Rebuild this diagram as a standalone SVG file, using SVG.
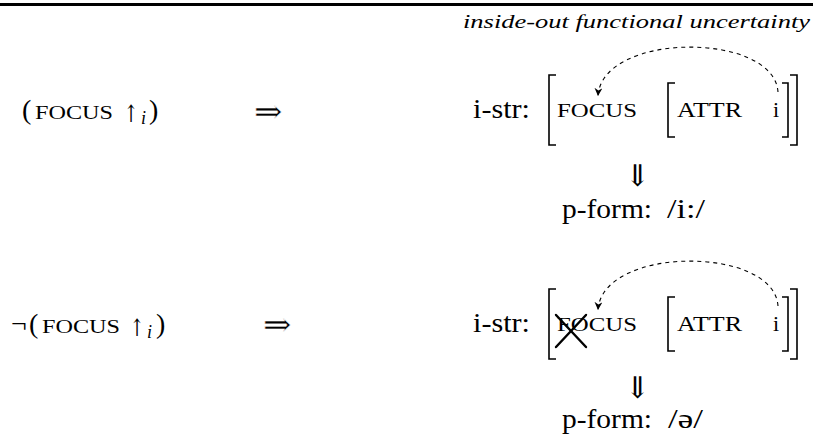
<svg xmlns="http://www.w3.org/2000/svg" width="813" height="435" viewBox="0 0 813 435">
<style>
.t{font-family:"Liberation Serif","Times New Roman",serif;fill:#000}
.lab{font-size:28px}
.sc{font-size:19px}
.av{font-size:22px}
.it{font-style:italic}
.sym{font-family:"DejaVu Serif","DejaVu Sans",serif;fill:#000}
.thin{stroke:#fff;stroke-width:0.45}
.br{fill:none;stroke:#000;stroke-width:1.6}
.arc{fill:none;stroke:#000;stroke-width:1.1;stroke-dasharray:4 4}
.x{stroke:#000;stroke-width:2.4;stroke-linecap:round}
</style>
<defs>
<marker id="ah" viewBox="0 0 10 10" refX="10" refY="5" markerWidth="8" markerHeight="8" markerUnits="userSpaceOnUse" orient="auto">
<path d="M0,0 L10,5 L0,10 L3,5 z" fill="#000"/>
</marker>
</defs>
<rect x="0" y="3" width="813" height="3" fill="#000"/>
<g id="caption"><text class="t it" x="463" y="28" font-size="18" textLength="347" lengthAdjust="spacingAndGlyphs">inside-out functional uncertainty</text></g>

<g id="lhs1">
<text class="t lab" x="22" y="119">(</text>
<text class="t sc" x="35" y="119" textLength="78" lengthAdjust="spacingAndGlyphs">FOCUS</text>
<text class="sym" transform="translate(124,122) scale(0.7,1)" font-size="24">↑</text>
<text class="t it" x="141" y="124" font-size="18">i</text>
<text class="t lab" x="149" y="119">)</text>
</g>
<g id="imp1"><text class="sym thin" x="254" y="123" font-size="34">⇒</text></g>
<g id="istr1">
<text class="t lab" x="473" y="118" textLength="57" lengthAdjust="spacingAndGlyphs">i-str:</text>
<path class="br" d="M556,75 H549 V145 H556"/>
<text class="t sc" x="557" y="117" textLength="80" lengthAdjust="spacingAndGlyphs">FOCUS</text>
<path class="br" d="M675,83 H668 V137 H675"/>
<text class="t av" x="677" y="117" textLength="65" lengthAdjust="spacingAndGlyphs">ATTR</text>
<text class="t av" x="773" y="117">i</text>
<path class="br" d="M782,83 H788 V137 H782"/>
<path class="br" d="M790,75 H797 V145 H790"/>
</g>
<g id="down1"><text class="sym" x="625" y="186" font-size="30">⇓</text></g>
<g id="pform1">
<text class="t lab" x="562" y="218" textLength="90" lengthAdjust="spacingAndGlyphs">p-form:</text>
<text class="t lab" x="667" y="218" textLength="38" lengthAdjust="spacingAndGlyphs">/i:/</text>
</g>

<g id="lhs2">
<text class="t lab" x="11" y="333">¬</text>
<text class="t lab" x="29" y="333">(</text>
<text class="t sc" x="42" y="333" textLength="78" lengthAdjust="spacingAndGlyphs">FOCUS</text>
<text class="sym" transform="translate(130,336) scale(0.7,1)" font-size="24">↑</text>
<text class="t it" x="147" y="338" font-size="18">i</text>
<text class="t lab" x="156" y="333">)</text>
</g>
<g id="imp2"><text class="sym thin" x="263" y="336" font-size="34">⇒</text></g>
<g id="istr2">
<text class="t lab" x="473" y="332" textLength="57" lengthAdjust="spacingAndGlyphs">i-str:</text>
<path class="br" d="M556,289 H549 V359 H556"/>
<text class="t sc" x="557" y="331" textLength="80" lengthAdjust="spacingAndGlyphs">FOCUS</text>
<line class="x" x1="556" y1="315" x2="586" y2="347"/>
<line class="x" x1="586" y1="315" x2="556" y2="347"/>
<path class="br" d="M675,297 H668 V351 H675"/>
<text class="t av" x="677" y="331" textLength="65" lengthAdjust="spacingAndGlyphs">ATTR</text>
<text class="t av" x="773" y="331">i</text>
<path class="br" d="M782,297 H788 V351 H782"/>
<path class="br" d="M790,289 H797 V359 H790"/>
</g>
<g id="down2"><text class="sym" x="625" y="398" font-size="30">⇓</text></g>
<g id="pform2">
<text class="t lab" x="562" y="428" textLength="90" lengthAdjust="spacingAndGlyphs">p-form:</text>
<text class="t lab" x="668" y="428" textLength="35" lengthAdjust="spacingAndGlyphs">/ə/</text>
</g>

<g id="connectors">
<path class="arc" d="M778,92 C774,31.5 602,31.5 598,96" marker-end="url(#ah)"/>
<path class="arc" d="M778,306 C774,245.5 602,245.5 598,310" marker-end="url(#ah)"/>
</g>
</svg>
